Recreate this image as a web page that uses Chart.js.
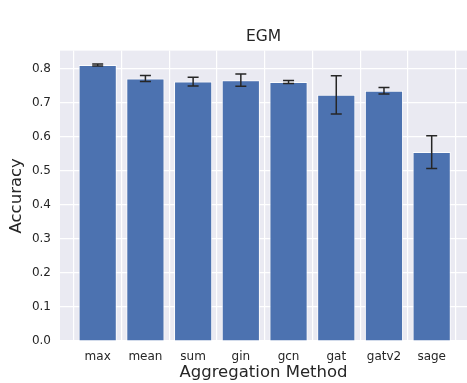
<!DOCTYPE html>
<html>
<head>
<meta charset="utf-8">
<script src="https://cdn.jsdelivr.net/npm/chart.js@4"></script>
<style>
  html, body { margin: 0; padding: 0; background: #fff; overflow: hidden; }
  #wrap { width: 467px; height: 383px; }
</style>
</head>
<body>
<div id="wrap"><canvas id="myChart" width="467" height="383"></canvas></div>
<script>
const methods = ['max', 'mean', 'sum', 'gin', 'gcn', 'gat', 'gatv2', 'sage'];
const accMean = [0.811, 0.771, 0.762, 0.766, 0.761, 0.723, 0.735, 0.555];
const accStd = [0.003, 0.009, 0.013, 0.018, 0.0045, 0.056, 0.0095, 0.048];
const yTicks = [0, 0.1, 0.2, 0.3, 0.4, 0.5, 0.6, 0.7, 0.8];

const textColor = '#262626';
const font = 'DejaVu Sans';

// fondo gris del area del grafico (estilo seaborn)
const plotBg = {
    id: 'plotBg',
    beforeDraw(chart) {
        const { ctx, chartArea: a } = chart;
        ctx.save();
        ctx.fillStyle = '#eaeaf2';
        ctx.fillRect(a.left, a.top, a.right - a.left, a.bottom - a.top);
        ctx.restore();
    }
};

// barras de error
const errorBars = {
    id: 'errorBars',
    afterDatasetsDraw(chart) {
        const { ctx } = chart;
        const y = chart.scales.y;
        const bars = chart.getDatasetMeta(0).data;
        ctx.save();
        ctx.strokeStyle = '#262626';
        ctx.lineWidth = 1.5;
        bars.forEach((bar, i) => {
            const top = y.getPixelForValue(accMean[i] + accStd[i]);
            const bot = y.getPixelForValue(accMean[i] - accStd[i]);
            const cap = 5.5;
            ctx.beginPath();
            ctx.moveTo(bar.x, top); ctx.lineTo(bar.x, bot);
            ctx.moveTo(bar.x - cap, top); ctx.lineTo(bar.x + cap, top);
            ctx.moveTo(bar.x - cap, bot); ctx.lineTo(bar.x + cap, bot);
            ctx.stroke();
        });
        ctx.restore();
    }
};

const ctx = document.getElementById('myChart').getContext('2d');

new Chart(ctx, {
    type: 'bar',
    data: {
        datasets: [{
            data: accMean.map((v, i) => ({ x: i, y: v })),
            backgroundColor: '#4c72b0',
            borderColor: 'rgba(255,255,255,0.85)',
            borderWidth: 1,
            barPercentage: 0.8,
            categoryPercentage: 1.0
        }]
    },
    options: {
        responsive: false,
        animation: false,
        layout: { padding: 0 },
        scales: {
            x: {
                type: 'linear',
                offset: false,
                min: -0.79,
                max: 7.74,
                afterBuildTicks: (scale) => { scale.ticks = methods.map((m, i) => ({ value: i })); },
                afterFit: (scale) => { scale.height = 42; },
                ticks: {
                    callback: (v) => methods[v],
                    color: textColor,
                    font: { family: font, size: 12 },
                    padding: 9,
                    maxRotation: 0,
                    autoSkip: false
                },
                grid: { color: '#ffffff', lineWidth: 1.2, drawTicks: false },
                border: { display: false },
                title: {
                    display: true,
                    text: 'Aggregation Method',
                    color: textColor,
                    font: { family: font, size: 16.5 },
                    padding: 0
                }
            },
            y: {
                min: 0,
                max: 0.853,
                afterBuildTicks: (scale) => { scale.ticks = yTicks.map(v => ({ value: v })); },
                afterFit: (scale) => { scale.width = 60; },
                ticks: {
                    callback: (v) => v.toFixed(1),
                    color: textColor,
                    font: { family: font, size: 12 },
                    padding: 9
                },
                grid: { color: '#ffffff', lineWidth: 1.2, drawTicks: false },
                border: { display: false },
                title: {
                    display: true,
                    text: 'Accuracy',
                    color: textColor,
                    font: { family: font, size: 16.5 },
                    padding: { top: 7, bottom: 0 }
                }
            }
        },
        plugins: {
            legend: { display: false },
            tooltip: { enabled: false },
            title: {
                display: true,
                text: 'EGM',
                fullSize: false,
                color: textColor,
                font: { family: font, size: 15.5, weight: 'normal' },
                padding: { top: 28, bottom: 4 }
            }
        }
    },
    plugins: [plotBg, errorBars]
});
</script>
</body>
</html>
